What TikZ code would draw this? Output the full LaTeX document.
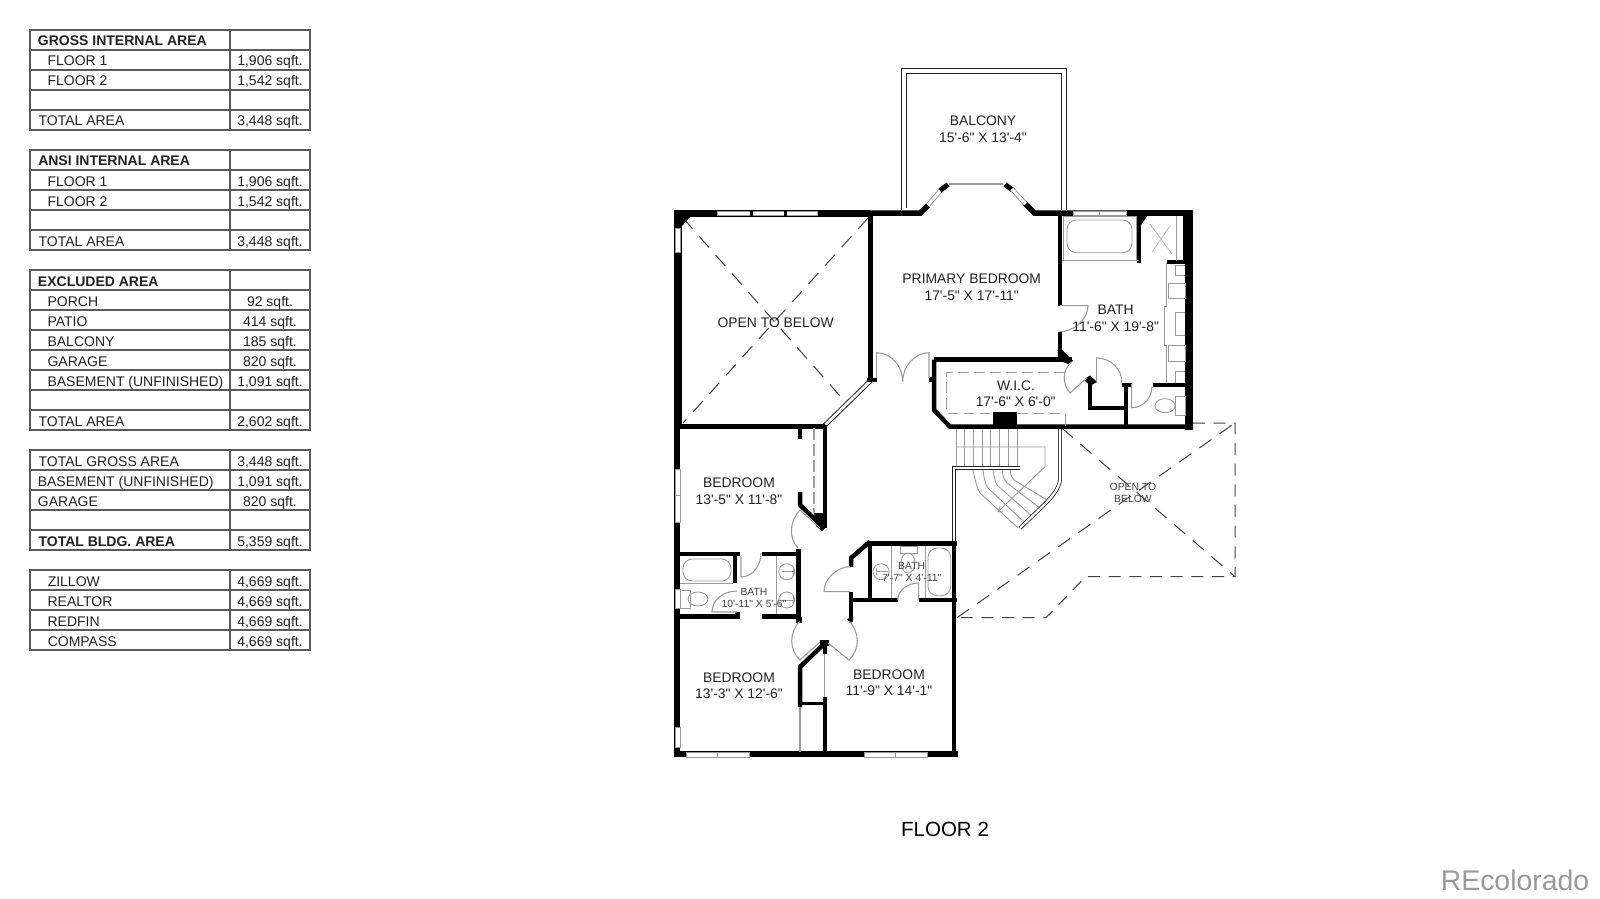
\documentclass[tikz,border=0pt]{standalone}
\usepackage{fontspec}
\newfontfamily\plainf{Liberation Sans}
\usetikzlibrary{arrows.meta}
\definecolor{ink}{HTML}{222222}
\definecolor{tline}{HTML}{5A5A5A}
\definecolor{fix}{HTML}{9A9A9A}
\newcounter{rowno}
\newcommand{\tablegrid}[2]{%
  \draw[tbl] (30,#1) rectangle (310,{#1+20*#2});
  \draw[tbl] (230,#1) -- (230,{#1+20*#2});
  \foreach \k in {1,...,#2}{\ifnum\k<#2\relax\draw[tbl] (30,{#1+20*\k}) -- (310,{#1+20*\k});\fi}%
}
\newcommand{\rowtxt}[5]{%
  \stepcounter{rowno}%
  \node[tlabel,font=\plainf\fontsize{10.5}{12}\selectfont#4,name=lab\therowno] at (#2,#1) {#3};%
  \ifx\relax#5\relax\else\node[tvalue,name=val\therowno] at (270,#1) {#5};\fi%
}
\tikzset{
  tbl/.style={draw=tline,line width=0.8pt},
  tlabel/.style={anchor=base west,inner sep=0pt,text=ink},
  tvalue/.style={anchor=base,inner sep=0pt,text=ink,font=\plainf\fontsize{10.5}{12}\selectfont},
  room/.style={anchor=base,inner sep=0pt,text=ink,font=\plainf\fontsize{10.4}{12}\selectfont},
  smallroom/.style={anchor=base,inner sep=0pt,text=ink!85,font=\plainf\fontsize{7.8}{9}\selectfont},
  wall/.style={draw=black,line width=#1*0.75pt,line cap=butt,line join=miter},
  fixture/.style={draw=fix,line width=0.65pt},
  leaf/.style={draw=fix,line width=0.8pt},
  rail/.style={draw=ink,line width=0.6pt,double=white,double distance=1.7pt},
  openline/.style={draw=ink!85,line width=0.75pt,dash pattern=on 9pt off 6.5pt},
  openlong/.style={draw=ink!85,line width=0.75pt,dash pattern=on 11pt off 7.5pt},
  wicline/.style={draw=fix,line width=0.8pt,dash pattern=on 8pt off 4pt},
  winbox/.style={draw=fix,fill=white,line width=0.6pt},
}
\begin{document}
\begin{tikzpicture}[x=0.75pt,y=-0.75pt]
\path[use as bounding box,fill=white] (0,0) rectangle (1600,899);

% ---------- area tables
\tablegrid{30}{5}\tablegrid{150}{5}\tablegrid{270}{8}\tablegrid{450}{5}\tablegrid{570}{4}
\rowtxt{46}{37.7}{GROSS INTERNAL AREA}{\bfseries}{}
\rowtxt{66}{47.3}{FLOOR 1}{}{1,906 sqft.}
\rowtxt{86}{47.3}{FLOOR 2}{}{1,542 sqft.}
\rowtxt{126}{38.3}{TOTAL AREA}{}{3,448 sqft.}
\rowtxt{166}{38}{ANSI INTERNAL AREA}{\bfseries}{}
\rowtxt{186}{47.3}{FLOOR 1}{}{1,906 sqft.}
\rowtxt{206}{47.3}{FLOOR 2}{}{1,542 sqft.}
\rowtxt{246}{38.3}{TOTAL AREA}{}{3,448 sqft.}
\rowtxt{286}{37.7}{EXCLUDED AREA}{\bfseries}{}
\rowtxt{306}{47.3}{PORCH}{}{92 sqft.}
\rowtxt{326}{47.3}{PATIO}{}{414 sqft.}
\rowtxt{346}{47.3}{BALCONY}{}{185 sqft.}
\rowtxt{366}{47.3}{GARAGE}{}{820 sqft.}
\rowtxt{386}{47.3}{BASEMENT (UNFINISHED)}{}{1,091 sqft.}
\rowtxt{426}{38.3}{TOTAL AREA}{}{2,602 sqft.}
\rowtxt{466}{38.3}{TOTAL GROSS AREA}{}{3,448 sqft.}
\rowtxt{486}{37.5}{BASEMENT (UNFINISHED)}{}{1,091 sqft.}
\rowtxt{506}{37.7}{GARAGE}{}{820 sqft.}
\rowtxt{546}{38.3}{TOTAL BLDG. AREA}{\bfseries}{5,359 sqft.}
\rowtxt{586}{47.5}{ZILLOW}{}{4,669 sqft.}
\rowtxt{606}{47.3}{REALTOR}{}{4,669 sqft.}
\rowtxt{626}{47.3}{REDFIN}{}{4,669 sqft.}
\rowtxt{646}{47.5}{COMPASS}{}{4,669 sqft.}

% ---------- balcony
\draw[draw=ink,line width=0.7pt] (901.3,210) -- (901.3,68) -- (1066.7,68) -- (1066.7,210);
\draw[draw=ink,line width=0.7pt] (906,208) -- (906,73) -- (1061.7,73) -- (1061.7,210);

% ---------- open-to-below dashed shapes
\draw[openlong] (683,218) -- (845,401.7);
\draw[openlong] (868,218) -- (683,423);
\draw[openline] (1193,423) -- (1235,423) -- (1235,576.7) -- (1085.7,576.7) -- (1046,617.7) -- (957,617.7);
\draw[openlong] (1061.7,428) -- (1235,576.7);
\draw[openlong] (957,617.7) -- (1235,423);

% ---------- stairs
\foreach \sx in {956,964.7,973.4,982.1,990.8,999.5,1008.2,1017}{\draw[fixture] (\sx,428) -- (\sx,467);}
\draw[fixture] (956,447) -- (1045,447) -- (1045,466.7) -- (998,511.7);
\draw[fixture] (998,511.7) -- ++(2,-5) (998,511.7) -- ++(5,0);
\draw[fixture] (973,470) .. controls (975,480) and (977,488) .. (980,493) -- (1018,528);
\draw[fixture] (983,470) .. controls (984,478) and (985,484) .. (988,488) -- (1025,523);
\draw[fixture] (993,470) .. controls (994,477) and (995,482) .. (997,485) -- (1033,517);
\draw[fixture] (1002,470) .. controls (1003,476) and (1004,480) .. (1007,483) -- (1040,508);
\draw[fixture] (1010,470) .. controls (1011,475) and (1012,478) .. (1014,480) -- (1047,500);
\draw[fixture] (1018,527) arc[start angle=135,end angle=-45,radius=4];
\draw[rail] (954,600) -- (954,467.7) -- (1020,467.7);
\draw[rail] (1020,528) .. controls (1040,508) and (1058,495) .. (1060,480) -- (1060,428);

% ---------- walls, upper block
\draw[wall=7] (674,213.5) -- (870,213.5);
\draw[wall=5.5] (870,213.2) -- (920,213.2) -- (928,205.5);
\draw[wall=5.5] (1024.5,203) -- (1034.5,213.2) -- (1140,213.2);
\draw[wall=6] (1126,213) -- (1192.7,213);
\draw[wall=8] (678.3,210) -- (678.3,426);
\draw[wall=4.5] (870.7,213) -- (870.7,381);
\draw[wall=4.5] (867,380) -- (876.5,380);
\draw[wall=4.5] (929,379.5) -- (934,379.5);
\fill[black] (682,217) -- (690,217) -- (682,226) -- cycle;
\draw[wall=4.5] (680,426.5) -- (825,426.5);
\draw[wall=3] (934,382) -- (934,359.5);
\draw[wall=4.5] (934,359.5) -- (1072,359.5);
\draw[wall=4.5] (934,359.5) -- (934,410) -- (950,426.7) -- (1192,426.7);
\fill[black] (993,411.7) rectangle (1017,428);
\draw[wall=4.5] (1060,213) -- (1060,305.5);
\draw[wall=4.5] (1060,331.7) -- (1060,353);
\fill[black] (1057.7,350) -- (1062,350) -- (1073,361) -- (1068,364) -- (1058,360) -- cycle;
\draw[wall=7.5] (1189,210) -- (1189,430);
\fill[black] (1183,215) rectangle (1186,261);
\draw[wall=4] (1139,215) -- (1139,263);
\fill[black] (1139,215) -- (1148,215) -- (1141,225) -- cycle;
\draw[wall=4.5] (1167,262) -- (1186,262);
\draw[wall=4] (1086,379) -- (1089,382);
\fill[black] (1086,378) -- (1090,375.5) -- (1097,382) -- (1091.5,385) -- cycle;
\draw[wall=4] (1090,381) -- (1090,408) -- (1124,408);
\draw[wall=4] (1126,426) -- (1126,385);
\draw[wall=4] (1122,385) -- (1132,385);
\draw[wall=4.5] (1153,385) -- (1186,385);

% ---------- walls, lower block
\draw[wall=6] (677,426) -- (677,757);
\draw[wall=5.7] (674,754.2) -- (957.7,754.2);
\draw[wall=4] (824.7,425) -- (824.7,528);
\draw[wall=4.5] (800,426) -- (800,439);
\draw[wall=4.5] (800,492) -- (800,505) -- (821,525);
\fill[black] (814,513) -- (826,513) -- (826,527) -- (822,531) -- (816,526) -- cycle;
\draw[wall=4.5] (680,554) -- (740,554);
\draw[wall=4.5] (762,554) -- (800,554);
\draw[wall=4.5] (735,552) -- (735,583);
\draw[wall=4.5] (798.7,549) -- (798.7,621);
\draw[wall=4.5] (680,616.7) -- (740,616.7);
\draw[wall=4.5] (762,616.7) -- (800,616.7);
\draw[wall=4.5] (737.5,612) -- (737.5,617);
\draw[wall=4] (954,543) -- (954,757);
\draw[wall=5] (868,543) -- (957,543);
\draw[wall=4.5] (870,543) -- (870,600);
\draw[wall=4.5] (870,541.5) -- (851,558) -- (851,567);
\draw[wall=4.5] (851,591.7) -- (851,620);
\fill[black] (847,619) -- (853,617) -- (853,622) -- (850,623) -- cycle;
\draw[wall=4] (850,600) -- (897.7,600);
\draw[wall=4] (919,600) -- (957,600);
\fill[black] (796,617) rectangle (802,623);
\draw[wall=4.5] (825,643) -- (800,667) -- (800,707);
\draw[wall=3.5] (800,703.5) -- (825,703.5);
\draw[wall=4] (824.7,697) -- (824.7,753);
\draw[wall=4] (824.7,643) -- (824.7,654);
\fill[black] (820,640) rectangle (829,646);

% ---------- windows
\draw[winbox] (717.7,211) rectangle (817,215.7);
\fill[black] (749.7,209.5) rectangle (752.5,217);
\fill[black] (784,209.5) rectangle (786.5,217);
\draw[winbox] (1073,211) rectangle (1126,215);
\draw[fixture] (1099,211) -- (1099,215);
\foreach \ya/\yb in {228/252,469/522,589/608,727/747}{\draw[winbox] (675,\ya) rectangle (680.5,\yb);}
\draw[fixture] (675,495) -- (680.5,495);
\draw[winbox] (686,752.5) rectangle (749,757);
\draw[fixture] (717.7,752.5) -- (717.7,757);
\draw[winbox] (864,752.5) rectangle (927,757);
\draw[fixture] (895,752.5) -- (895,757);
% bay window
\draw[draw=fix,line width=3.6pt] (928,205) -- (941,190);
\draw[draw=white,line width=2.2pt] (928,205) -- (941,190);
\draw[wall=5] (940,190.5) -- (948,184.5);
\draw[fixture,line width=1.1pt] (949,184.2) -- (1003,184.2);
\draw[wall=5] (1005,184.5) -- (1012.5,190);
\draw[draw=fix,line width=3.6pt] (1012,189) -- (1025.5,204);
\draw[draw=white,line width=2.2pt] (1012,189) -- (1025.5,204);
% double line under open area
\draw[draw=ink,line width=0.6pt] (870,378.5) -- (823,424.5);
\draw[draw=ink,line width=0.6pt] (873,381) -- (826,427);

% ---------- doors
\draw[leaf] (876.7,378) -- (876.7,352.7) .. controls (891,352.7) and (902.7,366) .. (902.7,381.7);
\draw[leaf] (929,378) -- (929,352.7) .. controls (915,352.7) and (902.7,366) .. (902.7,381.7);
\draw[leaf] (1060,305.7) -- (1088,305.7) .. controls (1088,320) and (1073,331.7) .. (1060,331.7);
\draw[leaf] (1071.7,361.7) .. controls (1062,370) and (1062,384) .. (1070,393) -- (1086.7,378);
\draw[leaf] (1096.7,383) -- (1096.7,358) .. controls (1110.6,358) and (1122,369) .. (1122,382.7);
\draw[leaf] (1131.7,384) -- (1131.7,407.7) .. controls (1143,407.7) and (1152,398) .. (1152,386.7);
\draw[leaf] (798,548) .. controls (788,538) and (790,520) .. (800,510) -- (820,528);
\draw[leaf] (741,556) -- (741,577) .. controls (752,577) and (761,566) .. (761,553);
\draw[leaf] (737,612) -- (712,612) .. controls (712,600) and (723,591) .. (737,591);
\draw[leaf] (800,621) .. controls (789,632) and (789,650) .. (800,660) -- (820,642);
\draw[leaf] (849,621) .. controls (860,632) and (860,650) .. (849,660) -- (828,643);
\draw[leaf] (850,591.7) -- (824,591.7) .. controls (824,578) and (838,566.7) .. (850,566.7);
\draw[leaf] (918.7,600) -- (918.7,583) .. controls (907,583) and (897.7,591) .. (897.7,600);
% closet sliders
\draw[fix,line width=1pt,dash pattern=on 9pt off 3pt] (814,428) -- (814,513);
\draw[leaf] (824.7,654) -- (824.7,697);
\draw[leaf] (800,707) -- (800,752);
\draw[wicline] (1065,372.7) -- (946.7,372.7) -- (946.7,413.3) -- (993,413.3);
\draw[wicline] (1017,413.3) -- (1065,413.3);
\draw[fixture] (1065,413.3) -- (1065,426);

% ---------- bath fixtures, primary
\draw[fixture] (1063,216) rectangle (1136,260);
\draw[fixture,rounded corners=7pt] (1067,220) rectangle (1132,252.7);
\draw[fixture] (1062,260) -- (1139,260);
\draw[fixture] (1176.7,216) -- (1176.7,261);
\draw[draw=fix!70,line width=0.5pt] (1150,224) -- (1172,254) (1170,226) -- (1152,252);
\draw[fixture] (1166.7,263) -- (1166.7,306.7) -- (1164,306.7) -- (1164,345) -- (1166.7,345) -- (1166.7,383);
\draw[fixture] (1168,283.3) rectangle (1185,298);
\draw[fixture] (1168,345.7) rectangle (1185,361);
\draw[fixture] (1185,265) -- (1175.7,265) -- (1175.7,275) -- (1185,275);
\draw[fixture] (1185,312.7) -- (1175.7,312.7) -- (1175.7,335) -- (1185,335);
\draw[fixture] (1185,371) -- (1175.7,371) -- (1175.7,383);
\draw[fixture] (1175,396.7) rectangle (1185,415);
\draw[fixture] (1165,405.7) ellipse[x radius=10,y radius=7];

% ---------- bath fixtures, left bath
\draw[fixture] (680,583) -- (733,583);
\draw[fixture,rounded corners=7pt] (683,559) rectangle (731,581);
\draw[fixture] (680,590) rectangle (690,608);
\draw[fixture] (698,599) ellipse[x radius=10,y radius=7];
\draw[fixture] (776.7,556) -- (776.7,614);
\draw[fixture] (786.7,571.7) circle[radius=8];
\draw[fixture] (786.7,600) circle[radius=8];
\draw[fixture] (782,571.7) -- (793,571.7) (793,568) -- (793,575);
\draw[fixture] (782,600) -- (793,600) (793,596) -- (793,604);

% ---------- bath fixtures, centre bath
\draw[fixture] (891.7,546) -- (891.7,598);
\draw[fixture] (925,546) -- (925,598);
\draw[fixture,rounded corners=7pt] (928,548) rectangle (950.7,595.7);
\draw[fixture] (881,571.7) circle[radius=8];
\draw[fixture] (876,571.7) -- (888,571.7) (876,568) -- (876,575);
\draw[fixture] (900,546.7) rectangle (917,553);
\draw[fixture] (908,563) ellipse[x radius=7,y radius=10];

% ---------- room labels
\node[room,name=balA] at (983,126) {BALCONY};
\node[room,name=balB] at (983,142.7) {15'-6" X 13'-4"};
\node[room,name=priA] at (971.7,283.3) {PRIMARY BEDROOM};
\node[room,name=priB] at (971.7,300) {17'-5" X 17'-11"};
\node[room,name=opn] at (775.7,327) {OPEN TO BELOW};
\node[room,name=wicA] at (1016,390) {W.I.C.};
\node[room,name=wicB] at (1015.7,406.7) {17'-6" X 6'-0"};
\node[room,name=batA] at (1115.7,314) {BATH};
\node[room,name=batB] at (1115.7,331) {11'-6" X 19'-8"};
\node[room,name=bedAa] at (739,487) {BEDROOM};
\node[room,name=bedAb] at (739,504) {13'-5" X 11'-8"};
\node[smallroom,name=bathLa] at (754,595.5) {BATH};
\node[smallroom,name=bathLb] at (754,607.8) {10'-11" X 5'-6"};
\node[smallroom,name=bathCa] at (911.7,569.5) {BATH};
\node[smallroom,name=bathCb] at (911.7,581.8) {7'-7" X 4'-11"};
\node[room,name=bedBa] at (739,682) {BEDROOM};
\node[room,name=bedBb] at (739,698) {13'-3" X 12'-6"};
\node[room,name=bedCa] at (889,679) {BEDROOM};
\node[room,name=bedCb] at (889,695.7) {11'-9" X 14'-1"};
\node[smallroom,name=opnA] at (1133,490.5) {OPEN TO};
\node[smallroom,name=opnB] at (1133,502.8) {BELOW};

% ---------- captions
\node[anchor=base,inner sep=0pt,text=black,font=\plainf\fontsize{15.4}{18}\selectfont,name=floorcap] at (945,836.7) {FLOOR 2};
\node[anchor=base,inner sep=0pt,text=black!40,font=\plainf\fontsize{21.3}{24}\selectfont,name=brand] at (1515,890) {REcolorado};
\end{tikzpicture}
\end{document}
